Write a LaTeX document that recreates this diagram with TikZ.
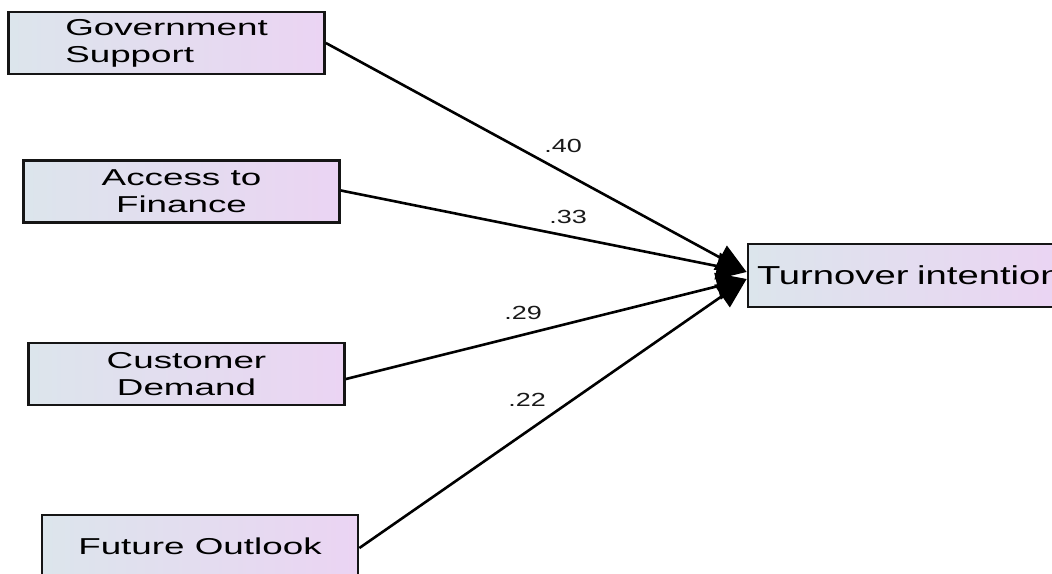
\documentclass[tikz,border=0pt]{standalone}
\usepackage{fontspec}
\setmainfont{Liberation Sans}
\newfontfamily\boxfont[FakeStretch=1.60]{Liberation Sans}
\newfontfamily\targetfont[FakeStretch=1.47]{Liberation Sans}
\newfontfamily\coeffont[FakeStretch=1.42]{Liberation Sans}
\usetikzlibrary{arrows.meta}
\definecolor{boxleft}{HTML}{DCE5EC}
\definecolor{boxright}{HTML}{EBD4F3}
\definecolor{edge}{HTML}{151515}
\tikzset{
  var/.style={draw=edge, line width=2.8pt, left color=boxleft, right color=boxright,
    minimum width=316pt, minimum height=62pt, inner sep=0pt,
    font=\boxfont\fontsize{23}{27}\selectfont, text=black},
  conn/.style={draw=black, line width=2.6pt,
    -{Triangle[length=30pt,width=27pt]}},
  coef/.style={font=\coeffont\fontsize{19}{22}\selectfont, inner sep=0pt, text=black!90}
}
\begin{document}
\begin{tikzpicture}[x=1pt,y=-1pt]
\useasboundingbox (0,0) rectangle (1052,573);
\fill[white] (0,0) rectangle (1052,573);

% predictor boxes
\node[var, align=left]   (gs) at (166.5,43)   {Government\\Support};
\node[var, align=center] (af) at (181.5,191.5) {Access to\\Finance};
\node[var, align=center] (cd) at (186.5,374)  {Customer\\Demand};
\node[var, align=center] (fo) at (200,546)    {Future Outlook};

% outcome box (runs past the right edge)
\node[var, minimum height=63pt, inner xsep=9pt, text width=298pt, align=left,
      font=\targetfont\fontsize{26}{30}\selectfont]
  (ti) at (906,275.5) {\hbox{Turnover intention}};

% paths
\draw[conn] (gs.east) -- ([yshift=3.5pt]ti.west);
\draw[conn] ([yshift=1pt]af.east) -- ([yshift=3.5pt]ti.west);
\draw[conn] ([yshift=-5pt]cd.east) -- ([yshift=-3.5pt]ti.west);
\draw[conn] ([yshift=-2pt]fo.east) -- ([yshift=-3.5pt]ti.west);

% path coefficients
\node[coef] (c1) at (563,146) {.40};
\node[coef] (c2) at (568,217) {.33};
\node[coef] (c3) at (523,313) {.29};
\node[coef] (c4) at (527,400) {.22};
\end{tikzpicture}
\end{document}
